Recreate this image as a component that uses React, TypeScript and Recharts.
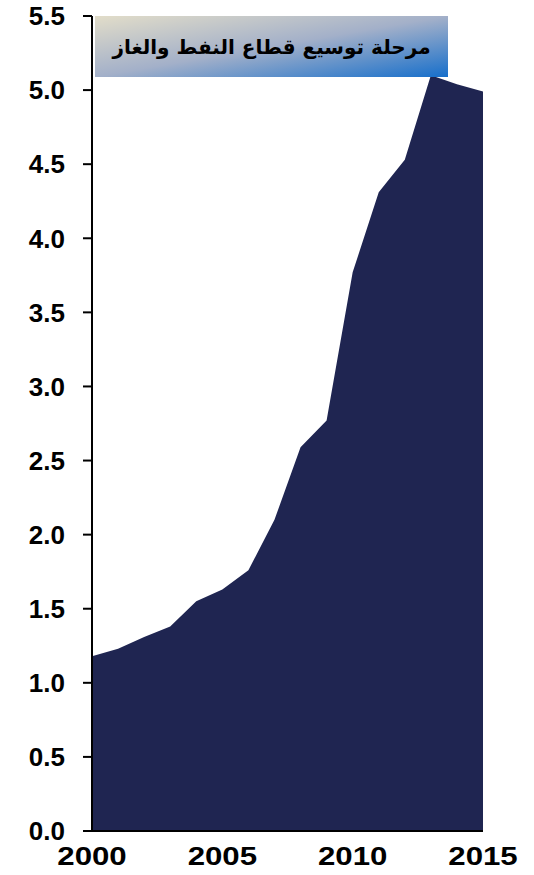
import { AreaChart, Area, XAxis, YAxis } from "recharts";

const years = [2000, 2001, 2002, 2003, 2004, 2005, 2006, 2007, 2008, 2009, 2010, 2011, 2012, 2013, 2014, 2015];
const values = [1.18, 1.23, 1.31, 1.38, 1.55, 1.63, 1.76, 2.1, 2.59, 2.77, 3.77, 4.31, 4.53, 5.1, 5.04, 4.99];
const xTicks = [2000, 2005, 2010, 2015];
const yTicks = [0, 0.5, 1, 1.5, 2, 2.5, 3, 3.5, 4, 4.5, 5, 5.5];
const title = "مرحلة توسيع قطاع النفط والغاز";

const data = years.map((year, i) => ({ year, value: values[i] }));

const FILL = "#1f2551";
const FONT = "'Liberation Sans', Arial, sans-serif";

const XTick = ({ x, y, payload }: any) => (
  <g transform={`translate(${x},${y}) scale(1.2,1)`}>
    <text x={0} y={0} dy="0.71em" textAnchor="middle" fontFamily={FONT} fontWeight="bold" fontSize={26} fill="#000" stroke="none">
      {payload.value}
    </text>
  </g>
);

export default function App() {
  return (
    <div style={{ position: "absolute", left: 0, top: 0, width: 534, height: 875, background: "#fff" }}>
      <style>{`
        .recharts-yAxis .recharts-cartesian-axis-tick-value { transform-box: fill-box; transform-origin: right center; transform: scaleX(1.18); }
      `}</style>
      <AreaChart width={534} height={875} data={data} margin={{ top: 16, right: 51, bottom: 0, left: 0 }}>
        <XAxis
          dataKey="year"
          type="number"
          domain={[2000, 2015]}
          ticks={xTicks}
          stroke="#000"
          strokeWidth={2}
          tickLine={false}
          tickSize={0}
          tickMargin={16}
          height={44}
          tick={<XTick />}
        />
        <YAxis
          domain={[0, 5.5]}
          ticks={yTicks}
          width={92}
          stroke="#000"
          strokeWidth={2}
          tickSize={9}
          tickLine={{ stroke: "#000", strokeWidth: 2 }}
          tick={{ fill: "#000", fontSize: 26, fontWeight: "bold", fontFamily: FONT, dx: -16 }}
          tickFormatter={(v: number) => v.toFixed(1)}
        />
        <Area
          type="linear"
          dataKey="value"
          stroke="none"
          fill={FILL}
          fillOpacity={1}
          isAnimationActive={false}
        />
      </AreaChart>
      <div
        style={{
          position: "absolute",
          left: 95,
          top: 16,
          width: 353,
          height: 61,
          background: "linear-gradient(to bottom right, #e2ddc9 0%, #a3b0c9 50%, #176fcb 100%)",
          display: "flex",
          alignItems: "center",
          justifyContent: "center",
          direction: "rtl",
          fontFamily: "'DejaVu Sans', sans-serif",
          fontWeight: "bold",
          fontSize: 20,
          color: "#000",
        }}
      >
        {title}
      </div>
    </div>
  );
}
